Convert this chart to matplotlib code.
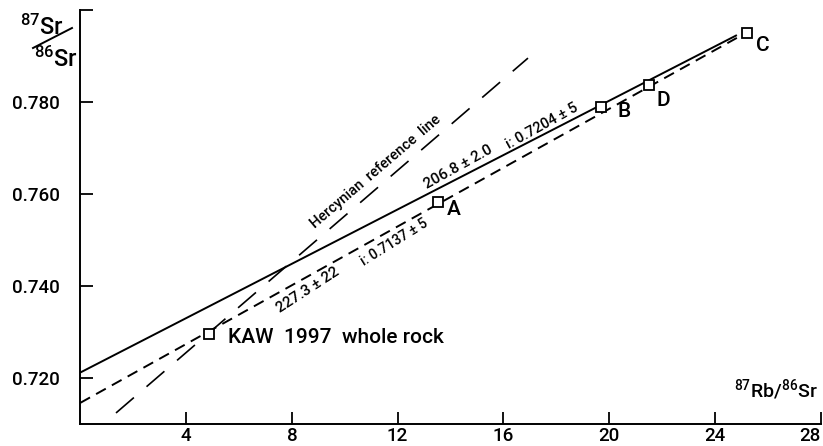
import matplotlib
matplotlib.use('Agg')
import matplotlib.pyplot as plt
from matplotlib.lines import Line2D

# measured samples (87Rb/86Sr, 87Sr/86Sr)
samples = ['KAW  1997  whole rock', 'A', 'B', 'D', 'C']
rb_sr = [4.87, 13.53, 19.69, 21.50, 25.23]
sr_sr = [0.7295, 0.7583, 0.7790, 0.7837, 0.7951]

# isochron end points
iso1_x = [0.0, 24.83]
iso1_y = [0.7212, 0.7946]
iso2_x = [0.0, 24.83]
iso2_y = [0.7146, 0.7940]
herc_x = [1.35, 16.93]
herc_y = [0.7124, 0.7896]

x_ticks = [4, 8, 12, 16, 20, 24, 28]
y_ticks = [0.720, 0.740, 0.760, 0.780, 0.800]
y_tick_labels = ['0.720', '0.740', '0.760', '0.780', '']

plt.rcParams['font.family'] = ['Roboto', 'DejaVu Sans']
plt.rcParams['font.weight'] = 'medium'
plt.rcParams['mathtext.default'] = 'regular'
plt.rcParams['lines.scale_dashes'] = False

fig = plt.figure(figsize=(8.23, 4.46), dpi=100)
ax = fig.add_axes([80.3 / 823, 22 / 446, 740.4 / 823, 413.7 / 446])
ax.set_xlim(0, 28)
ax.set_ylim(0.710, 0.800)

ax.plot(iso1_x, iso1_y, color='black', lw=1.4, solid_capstyle='butt')
ax.plot(iso2_x, iso2_y, color='black', lw=1.4, dashes=(8, 5))
ax.plot(herc_x, herc_y, color='black', lw=1.2, dashes=(17, 12))

ax.plot(rb_sr, sr_sr, 's', ms=7, mfc='white', mec='black', mew=1.3,
        color='black', zorder=5)

# point labels, offsets in pixels from each square
offsets = [(19, -3), (9, -8), (17, -5), (8, -15), (9, -13)]
for name, x, y, off in zip(samples, rb_sr, sr_sr, offsets):
    ax.annotate(name, (x, y), xytext=off, textcoords='offset pixels',
                ha='left', va='center', fontsize=15)

# labels along the lines
ax.text(11.16, 0.7649, 'Hercynian  reference  line', rotation=40.5,
        rotation_mode='anchor', ha='center', va='center', fontsize=10.5)
ax.text(14.30, 0.7658, '206.8 ± 2.0', rotation=29,
        rotation_mode='anchor', ha='center', va='center', fontsize=11)
ax.text(17.47, 0.7749, 'i: 0.7204 ± 5', rotation=29,
        rotation_mode='anchor', ha='center', va='center', fontsize=10.5)
ax.text(11.86, 0.7495, 'i: 0.7137 ± 5', rotation=32,
        rotation_mode='anchor', ha='center', va='center', fontsize=10)
ax.text(8.62, 0.7392, '227.3 ± 22', rotation=33,
        rotation_mode='anchor', ha='center', va='center', fontsize=11)

ax.spines['top'].set_visible(False)
ax.spines['right'].set_visible(False)
ax.spines['left'].set_linewidth(1.4)
ax.spines['bottom'].set_linewidth(1.4)

ax.set_xticks(x_ticks)
ax.set_yticks(y_ticks)
ax.set_yticklabels(y_tick_labels)
ax.tick_params(axis='both', direction='in', length=9, width=1.3, labelsize=13.5)
ax.tick_params(axis='x', pad=2)
ax.tick_params(axis='y', pad=15)
# last x label sits left of its tick, at the page edge
ax.get_xticklabels()[-1].set_horizontalalignment('right')

# axis titles
fig.text(818 / 823, 1 - 397 / 446, r'$^{87}$Rb/$^{86}$Sr', ha='right',
         va='baseline', fontsize=14)
fig.text(64 / 823, 1 - 35 / 446, r'$^{87}$Sr', ha='right', va='baseline',
         fontsize=17)
fig.text(78 / 823, 1 - 67 / 446, r'$^{86}$Sr', ha='right', va='baseline',
         fontsize=17)
fig.add_artist(Line2D([33 / 823, 72 / 823], [1 - 48 / 446, 1 - 28 / 446],
                      color='black', lw=1.4, transform=fig.transFigure))

plt.savefig('out.png', dpi=100)
